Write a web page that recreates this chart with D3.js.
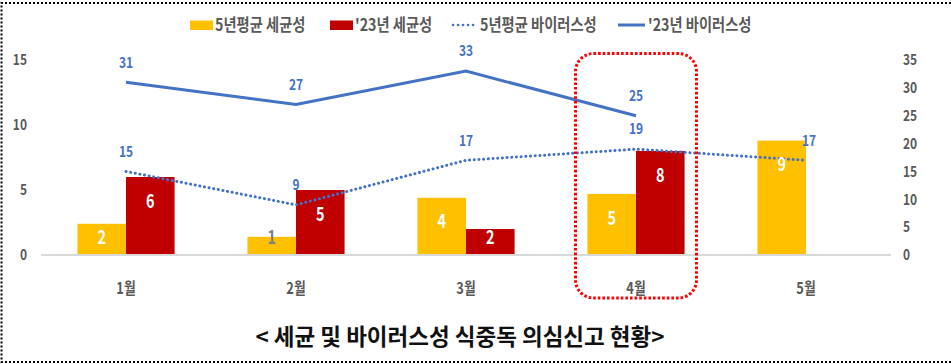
<!DOCTYPE html>
<html>
<head>
<meta charset="utf-8">
<script src="https://cdn.jsdelivr.net/npm/d3@7"></script>
<style>
  body { margin: 0; background: #fff; }
  text { font-family: "Noto Sans CJK KR", "Noto Sans", sans-serif; font-weight: 700; }
</style>
</head>
<body>
<svg id="chart" width="951" height="364"></svg>
<script>
// chart data
const months = ["1월", "2월", "3월", "4월", "5월"];
const avgBacteria = [2.4, 1.4, 4.4, 4.7, 8.8];   // 5년평균 세균성
const curBacteria = [6, 5, 2, 8, null];          // '23년 세균성
const avgVirus = [15, 9, 17, 19, 17];            // 5년평균 바이러스성
const curVirus = [31, 27, 33, 25, null];         // '23년 바이러스성
const leftTicks = [0, 5, 10, 15];
const rightTicks = [0, 5, 10, 15, 20, 25, 30, 35];
const seriesNames = ["5년평균 세균성", "'23년 세균성", "5년평균 바이러스성", "'23년 바이러스성"];
const title = "< 세균 및 바이러스성 식중독 의심신고 현황>";

const width = 951, height = 364;
const yellow = "#ffc000", red = "#c00000", blue = "#4472c4", grey = "#595959";

const svg = d3.select("#chart");

// scales
const x = d3.scaleBand().domain(months).range([41, 891]).padding(0);
const xs = d3.scaleBand().domain(["avg", "cur"]).range([0, x.bandwidth()]).paddingOuter(0.75);
const yL = d3.scaleLinear().domain([0, 15]).range([255, 60]);
const yR = d3.scaleLinear().domain([0, 35]).range([255, 60]);
const cx = m => x(m) + x.bandwidth() / 2;

// squeezed text, like the narrow lettering of the original
function txt(g, px, py, str, size, color, anchor, sx) {
  return g.append("text")
    .attr("transform", `translate(${px},${py}) scale(${sx || 0.76},1)`)
    .attr("text-anchor", anchor || "middle")
    .attr("dy", "0.35em")
    .attr("font-size", size)
    .attr("fill", color)
    .text(str);
}

// outer dotted frame
svg.append("path")
  .attr("d", `M${width},3H1.5V362H${width}`)
  .attr("fill", "none")
  .attr("stroke", "#000")
  .attr("stroke-width", 2)
  .attr("stroke-dasharray", "2,2");

// bars
const bars = months.map((m, i) => ({ m, avg: avgBacteria[i], cur: curBacteria[i] }));
const groups = svg.selectAll("g.grp").data(bars).enter().append("g")
  .attr("class", "grp")
  .attr("transform", d => `translate(${x(d.m)},0)`);

groups.append("rect")
  .attr("x", xs("avg")).attr("width", xs.bandwidth())
  .attr("y", d => yL(d.avg)).attr("height", d => yL(0) - yL(d.avg))
  .attr("fill", yellow);

groups.filter(d => d.cur != null).append("rect")
  .attr("x", xs("cur")).attr("width", xs.bandwidth())
  .attr("y", d => yL(d.cur)).attr("height", d => yL(0) - yL(d.cur))
  .attr("fill", red);

// baseline
svg.append("line")
  .attr("x1", 41).attr("x2", 891)
  .attr("y1", yL(0)).attr("y2", yL(0))
  .attr("stroke", "#d9d9d9").attr("stroke-width", 2);

// lines
const line = d3.line()
  .defined(d => d != null)
  .x((d, i) => cx(months[i]))
  .y(d => yR(d));

svg.append("path")
  .attr("d", line(curVirus))
  .attr("fill", "none").attr("stroke", blue).attr("stroke-width", 3);

svg.append("path")
  .attr("d", line(avgVirus))
  .attr("fill", "none").attr("stroke", blue).attr("stroke-width", 3)
  .attr("stroke-linecap", "round").attr("stroke-dasharray", "0.1,4.6");

// labels
const fmt = d3.format(".0f");
const lab = svg.append("g");
bars.forEach(d => {
  const c = x(d.m) + xs("avg") + xs.bandwidth() / 2;
  const top = yL(d.avg);
  const h = yL(0) - top;
  txt(lab, c, Math.min(top + 24, yL(0) - 18), fmt(d.avg), 19, h < 22 ? "#7f7f7f" : "#fff");
  if (d.cur != null) {
    const c2 = x(d.m) + xs("cur") + xs.bandwidth() / 2;
    const t2 = yL(d.cur);
    const h2 = yL(0) - t2;
    txt(lab, c2, Math.min(t2 + 24, yL(0) - 18), fmt(d.cur), 19, h2 < 22 ? "#7f7f7f" : "#fff");
  }
});
curVirus.forEach((v, i) => { if (v != null) txt(lab, cx(months[i]), yR(v) - 20, v, 15, blue, "middle", 0.8); });
avgVirus.forEach((v, i) => txt(lab, cx(months[i]) + (i === 4 ? 3 : 0), yR(v) - 20, v, 15, blue, "middle", 0.8));

// axes (tick text only)
const ax = svg.append("g");
leftTicks.forEach(t => txt(ax, 27, yL(t), t, 15, grey, "end", 0.8));
rightTicks.forEach(t => txt(ax, 903, yR(t), t, 15, grey, "start", 0.8));
months.forEach(m => txt(ax, cx(m), 288, m, 16, grey, "middle", 0.8));

// highlight box around April
svg.append("rect")
  .attr("x", 575.5).attr("y", 53.5)
  .attr("width", 121).attr("height", 244.5)
  .attr("rx", 18)
  .attr("fill", "none")
  .attr("stroke", "#ff0000").attr("stroke-width", 3)
  .attr("stroke-dasharray", "2.6,2");

// legend
const lg = svg.append("g");
const legX = [190, 330, 452, 618];
lg.append("rect").attr("x", legX[0]).attr("y", 20.5).attr("width", 23).attr("height", 9.5).attr("fill", yellow);
lg.append("rect").attr("x", legX[1]).attr("y", 20.5).attr("width", 23).attr("height", 9.5).attr("fill", red);
lg.append("line").attr("x1", legX[2] + 1).attr("x2", legX[2] + 23).attr("y1", 25).attr("y2", 25)
  .attr("stroke", blue).attr("stroke-width", 2.6).attr("stroke-linecap", "round").attr("stroke-dasharray", "0.1,4.9");
lg.append("line").attr("x1", legX[3]).attr("x2", legX[3] + 27).attr("y1", 25).attr("y2", 25)
  .attr("stroke", blue).attr("stroke-width", 3);
const textX = [215, 355, 480, 648];
seriesNames.forEach((s, i) => txt(lg, textX[i], 25, s, 17, grey, "start", 0.84));

// title
svg.append("text")
  .attr("x", 460).attr("y", 337).attr("dy", "0.35em")
  .attr("text-anchor", "middle")
  .attr("font-size", 22.5)
  .attr("fill", "#111")
  .text(title);
</script>
</body>
</html>
